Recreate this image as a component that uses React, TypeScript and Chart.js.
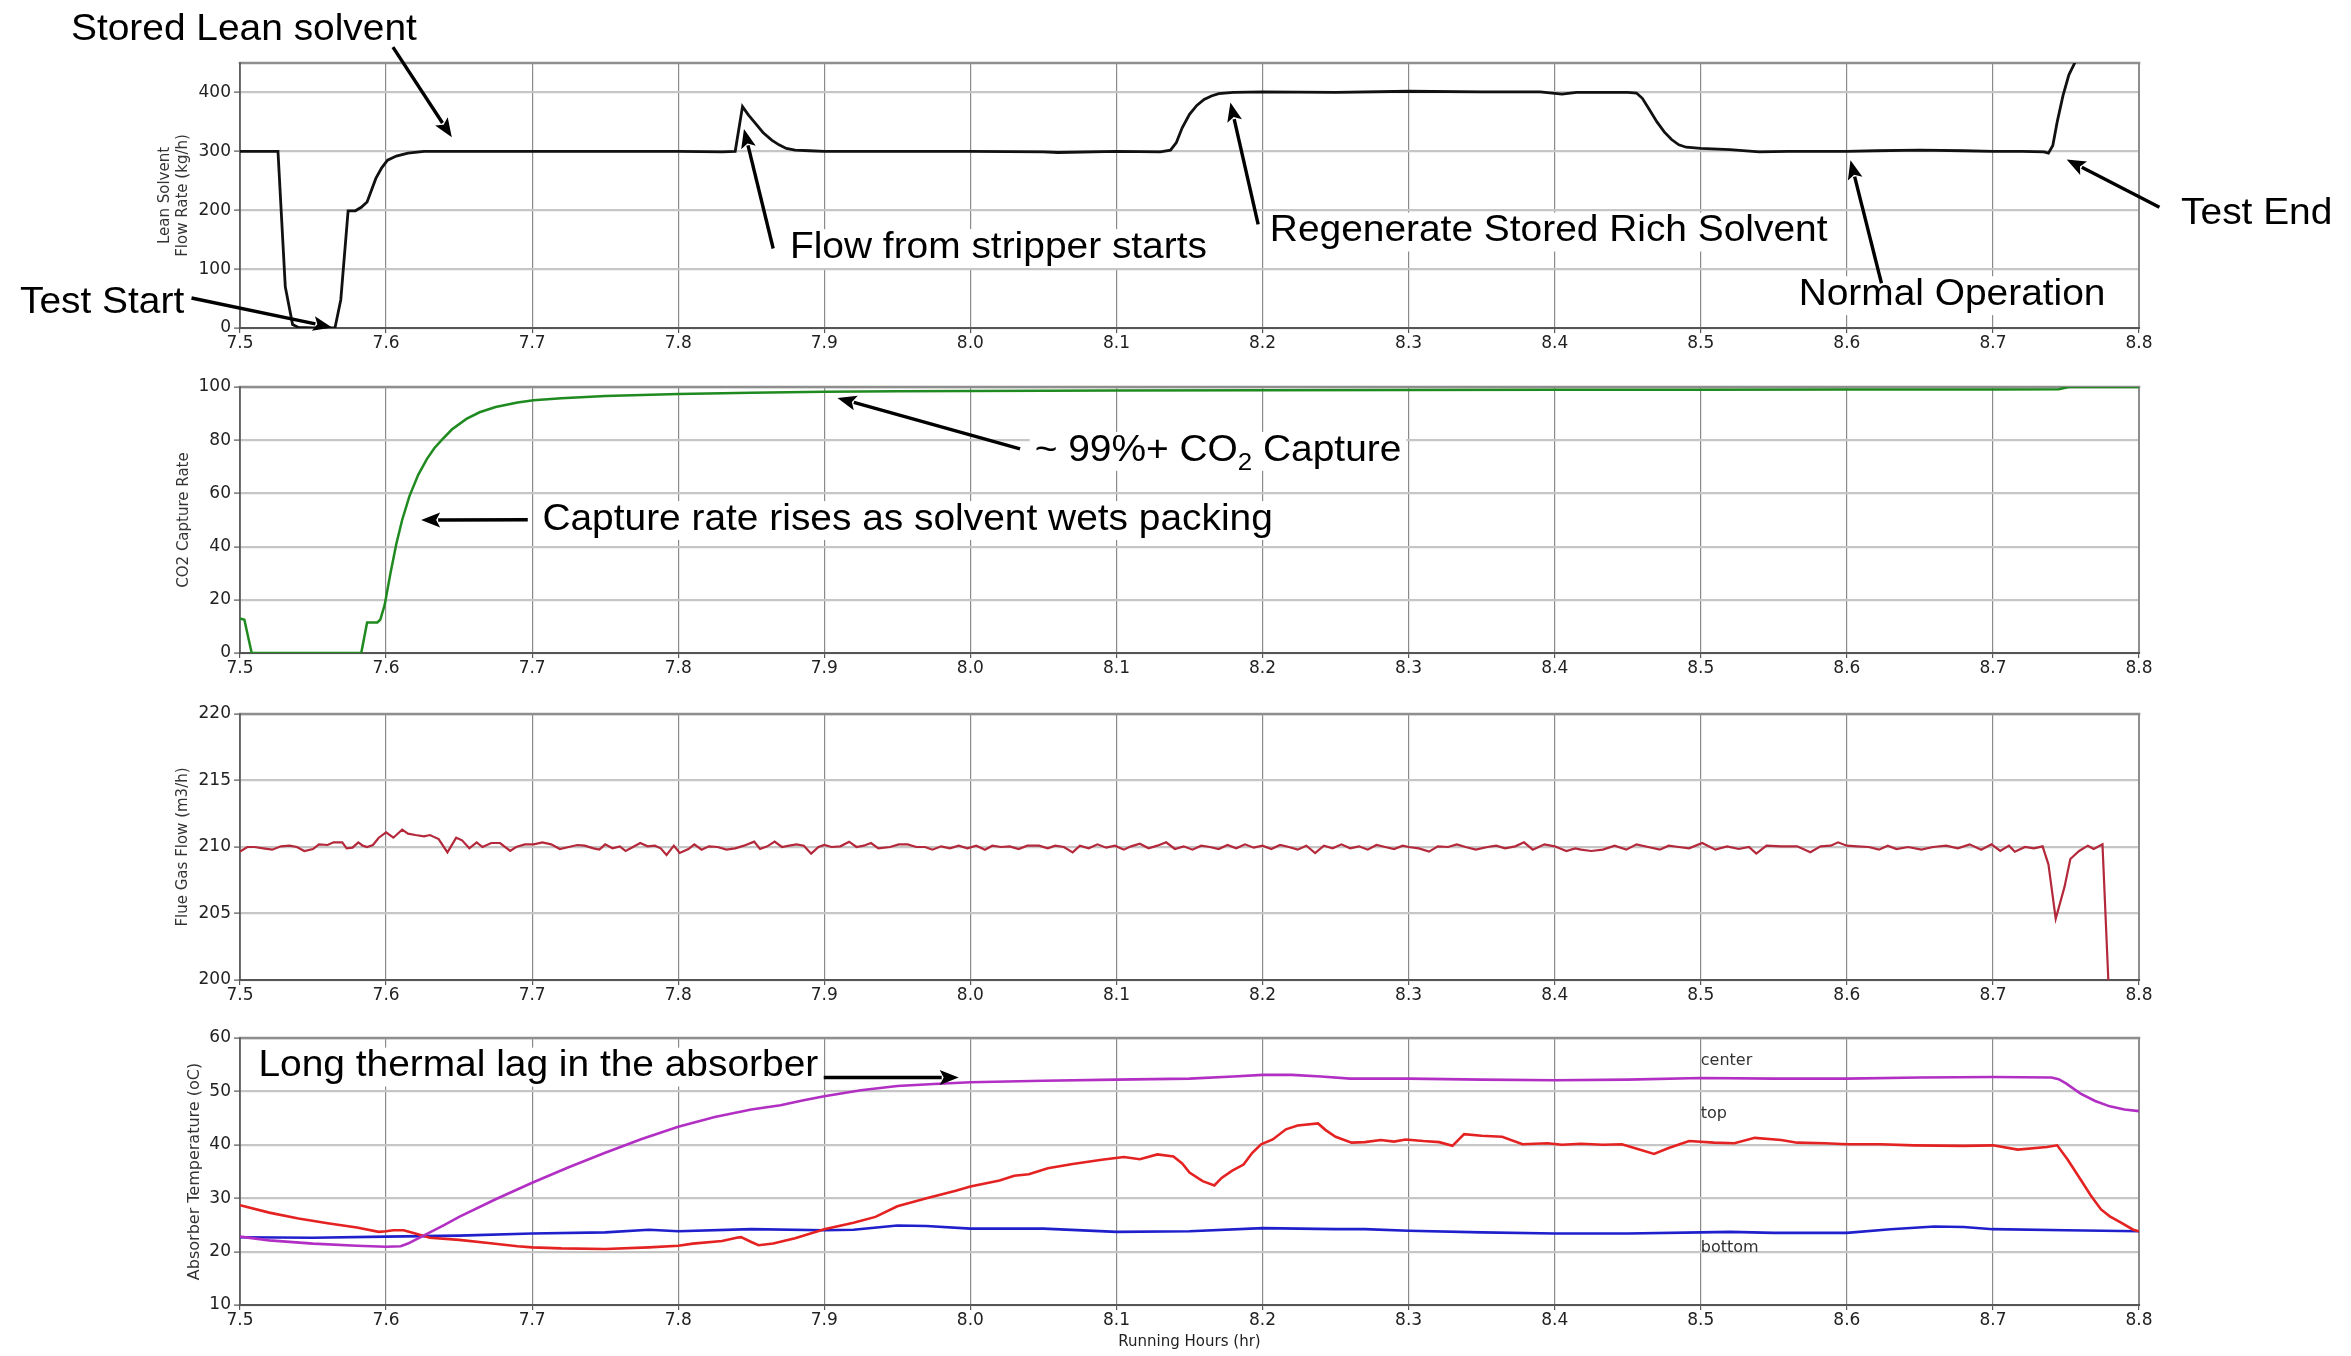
import React, { useEffect, useRef } from "react";
import { Chart, registerables } from "chart.js";
Chart.register(...registerables);

// ---------- axes ----------
const xTicks = [7.5, 7.6, 7.7, 7.8, 7.9, 8.0, 8.1, 8.2, 8.3, 8.4, 8.5, 8.6, 8.7, 8.8];
const leanTicks = [0, 100, 200, 300, 400];
const co2Ticks = [0, 20, 40, 60, 80, 100];
const flueTicks = [200, 205, 210, 215, 220];
const tempTicks = [10, 20, 30, 40, 50, 60];

// ---------- lean solvent flow (kg/h) ----------
const leanHours = [
  7.5, 7.51, 7.52, 7.526, 7.531, 7.536, 7.54, 7.55, 7.56, 7.565,
  7.569, 7.574, 7.579, 7.583, 7.587, 7.593, 7.597, 7.601, 7.607, 7.615,
  7.626, 7.65, 7.7, 7.75, 7.8, 7.83, 7.839, 7.844, 7.848, 7.853,
  7.858, 7.864, 7.869, 7.874, 7.88, 7.89, 7.9, 7.95, 8.0, 8.05,
  8.06, 8.1, 8.13, 8.137, 8.141, 8.145, 8.15, 8.155, 8.16, 8.165,
  8.17, 8.18, 8.2, 8.25, 8.3, 8.35, 8.39, 8.405, 8.415, 8.45,
  8.456, 8.46, 8.465, 8.47, 8.475, 8.48, 8.485, 8.49, 8.5, 8.52,
  8.54, 8.56, 8.6, 8.62, 8.65, 8.68, 8.7, 8.72, 8.735, 8.738,
  8.741, 8.744, 8.748, 8.752, 8.756, 8.76,
];
const leanFlow = [
  300, 300, 300, 300, 70, 6, 1, 0, 0, 0,
  48, 199, 199, 205, 214, 254, 272, 285, 292, 297,
  300, 300, 300, 300, 300, 299, 300, 376, 362, 347,
  332, 319, 311, 305, 302, 301, 300, 300, 300, 299,
  298, 300, 299, 302, 315, 340, 363, 378, 388, 394,
  398, 400, 401, 400, 402, 401, 401, 397, 400, 400,
  399, 390, 370, 350, 333, 320, 311, 307, 305, 303,
  299, 300, 300, 301, 302, 301, 300, 300, 299, 297,
  310, 350, 395, 430, 450, 470,
];

// ---------- CO2 capture rate ----------
const co2Hours = [
  7.5, 7.503, 7.506, 7.508, 7.55, 7.583, 7.587, 7.594, 7.596, 7.599,
  7.603, 7.607, 7.611, 7.616, 7.622, 7.628, 7.633, 7.638, 7.645, 7.655,
  7.664, 7.675, 7.69, 7.701, 7.72, 7.75, 7.8, 7.85, 7.9, 7.95,
  8.0, 8.1, 8.2, 8.3, 8.4, 8.5, 8.6, 8.7, 8.745, 8.752, 8.8,
];
const co2Rate = [
  13, 12.5, 5, 0, 0, 0, 11.5, 11.5, 12.5, 18,
  30, 41, 50, 59, 67, 73, 77, 80, 84, 88,
  90.5, 92.5, 94.2, 95, 95.8, 96.6, 97.4, 97.8, 98.2, 98.4,
  98.5, 98.7, 98.8, 98.9, 99.0, 99.0, 99.1, 99.1, 99.2, 100, 100,
];

// ---------- flue gas flow (m3/h) ----------
const flueHours = [
  7.5, 7.505, 7.51, 7.516, 7.522, 7.528, 7.534, 7.539, 7.544, 7.55,
  7.554, 7.56, 7.564, 7.57, 7.573, 7.577, 7.581, 7.584, 7.587, 7.591,
  7.595, 7.6, 7.605, 7.611, 7.615, 7.62, 7.626, 7.63, 7.636, 7.642,
  7.648, 7.652, 7.657, 7.662, 7.666, 7.672, 7.678, 7.685, 7.689, 7.695,
  7.701, 7.707, 7.713, 7.719, 7.725, 7.731, 7.736, 7.742, 7.746, 7.75,
  7.755, 7.76, 7.764, 7.769, 7.774, 7.779, 7.784, 7.788, 7.792, 7.797,
  7.801, 7.807, 7.811, 7.816, 7.821, 7.827, 7.833, 7.839, 7.845, 7.852,
  7.856, 7.861, 7.866, 7.871, 7.876, 7.881, 7.886, 7.891, 7.896, 7.9,
  7.905, 7.911, 7.917, 7.922, 7.927, 7.932, 7.937, 7.945, 7.951, 7.957,
  7.963, 7.969, 7.974, 7.98, 7.986, 7.992, 7.998, 8.004, 8.01, 8.015,
  8.021, 8.027, 8.033, 8.039, 8.047, 8.053, 8.058, 8.064, 8.07, 8.075,
  8.081, 8.087, 8.093, 8.099, 8.105, 8.11, 8.116, 8.122, 8.128, 8.134,
  8.14, 8.146, 8.152, 8.158, 8.164, 8.17, 8.176, 8.182, 8.188, 8.194,
  8.2, 8.206, 8.212, 8.218, 8.224, 8.23, 8.236, 8.242, 8.248, 8.254,
  8.26, 8.266, 8.272, 8.278, 8.284, 8.29, 8.296, 8.3, 8.307, 8.314,
  8.32, 8.327, 8.333, 8.339, 8.346, 8.354, 8.36, 8.366, 8.373, 8.379,
  8.385, 8.393, 8.4, 8.408, 8.414, 8.418, 8.425, 8.433, 8.441, 8.449,
  8.456, 8.464, 8.472, 8.478, 8.485, 8.492, 8.501, 8.51, 8.518, 8.526,
  8.533, 8.538, 8.545, 8.555, 8.566, 8.575, 8.582, 8.589, 8.594, 8.6,
  8.607, 8.615, 8.622, 8.628, 8.634, 8.642, 8.651, 8.659, 8.668, 8.676,
  8.684, 8.692, 8.699, 8.705, 8.711, 8.715, 8.722, 8.728, 8.734, 8.738,
  8.743, 8.749, 8.753, 8.759, 8.765, 8.769, 8.775, 8.779, 8.781,
];
const flueFlow = [
  209.65, 210.0, 210.0, 209.9, 209.8, 210.05, 210.1, 210.0, 209.7, 209.85,
  210.2, 210.15, 210.35, 210.35, 209.9, 209.95, 210.35, 210.1, 210.0, 210.15,
  210.7, 211.1, 210.7, 211.3, 211.0, 210.9, 210.8, 210.9, 210.6, 209.6,
  210.7, 210.5, 209.9, 210.35, 210.0, 210.3, 210.3, 209.7, 210.0, 210.2,
  210.2, 210.35, 210.2, 209.85, 210.0, 210.15, 210.1, 209.9, 209.8, 210.2,
  209.9, 210.05, 209.7, 210.0, 210.3, 210.05, 210.1, 209.9, 209.4, 210.1,
  209.55, 209.85, 210.2, 209.8, 210.05, 210.0, 209.8, 209.9, 210.1, 210.4,
  209.85, 210.05, 210.4, 210.0, 210.1, 210.2, 210.1, 209.5, 210.0, 210.15,
  210.0, 210.05, 210.4, 210.0, 210.1, 210.3, 209.9, 210.0, 210.2, 210.2,
  210.0, 210.0, 209.8, 210.05, 209.9, 210.1, 209.9, 210.1, 209.8, 210.1,
  210.0, 210.05, 209.85, 210.1, 210.1, 209.9, 210.1, 210.0, 209.6, 210.1,
  209.9, 210.2, 209.95, 210.1, 209.8, 210.05, 210.25, 209.9, 210.1, 210.35,
  209.85, 210.05, 209.8, 210.1, 210.0, 209.85, 210.15, 209.9, 210.2, 209.95,
  210.1, 209.85, 210.15, 210.0, 209.8, 210.1, 209.55, 210.1, 209.9, 210.2,
  209.9, 210.05, 209.8, 210.15, 210.0, 209.85, 210.1, 210.0, 209.9, 209.65,
  210.05, 210.0, 210.2, 210.0, 209.8, 210.0, 210.1, 209.9, 210.05, 210.35,
  209.8, 210.2, 210.05, 209.7, 209.9, 209.8, 209.7, 209.8, 210.1, 209.8,
  210.2, 210.0, 209.8, 210.1, 210.0, 209.9, 210.3, 209.8, 210.05, 209.85,
  210.0, 209.5, 210.1, 210.05, 210.05, 209.6, 210.05, 210.1, 210.35, 210.1,
  210.05, 210.0, 209.8, 210.1, 209.85, 210.0, 209.8, 210.0, 210.1, 209.9,
  210.2, 209.8, 210.2, 209.7, 210.1, 209.65, 210.0, 209.9, 210.05, 208.7,
  204.6, 207.0, 209.1, 209.7, 210.1, 209.85, 210.2, 200.0, 195.0,
];

// ---------- absorber temperatures (oC) ----------
const centerHours = [
  7.5, 7.52, 7.55, 7.58, 7.6, 7.61, 7.615, 7.62, 7.63, 7.64,
  7.65, 7.675, 7.7, 7.725, 7.75, 7.775, 7.8, 7.825, 7.85, 7.87,
  7.885, 7.9, 7.925, 7.95, 7.975, 8.0, 8.05, 8.1, 8.15, 8.18,
  8.2, 8.22, 8.24, 8.26, 8.3, 8.35, 8.4, 8.45, 8.5, 8.55,
  8.6, 8.65, 8.7, 8.74, 8.745, 8.75, 8.76, 8.77, 8.78, 8.79, 8.8,
];
const centerTemp = [
  22.8, 22.1, 21.5, 21.1, 20.9, 21.0, 21.5, 22.2, 23.6, 25.0,
  26.5, 29.8, 32.9, 35.8, 38.5, 41.1, 43.4, 45.2, 46.6, 47.4,
  48.3, 49.1, 50.2, 51.0, 51.4, 51.7, 52.0, 52.2, 52.4, 52.8,
  53.1, 53.1, 52.8, 52.4, 52.4, 52.2, 52.1, 52.2, 52.5, 52.4,
  52.4, 52.6, 52.7, 52.6, 52.3, 51.5, 49.6, 48.2, 47.2, 46.6, 46.3,
];
const topHours = [
  7.5, 7.52, 7.54, 7.56, 7.58, 7.595, 7.6, 7.605, 7.612, 7.62,
  7.63, 7.65, 7.67, 7.69, 7.7, 7.72, 7.75, 7.78, 7.8, 7.81,
  7.83, 7.84, 7.843, 7.85, 7.855, 7.865, 7.88, 7.9, 7.92, 7.935,
  7.95, 7.97, 7.99, 8.0, 8.02, 8.03, 8.04, 8.053, 8.07, 8.09,
  8.105, 8.116, 8.128, 8.139, 8.145, 8.15, 8.159, 8.167, 8.172, 8.179,
  8.187, 8.193, 8.199, 8.207, 8.216, 8.224, 8.238, 8.243, 8.25, 8.261,
  8.27, 8.281, 8.29, 8.298, 8.31, 8.321, 8.33, 8.338, 8.35, 8.364,
  8.378, 8.395, 8.405, 8.418, 8.433, 8.446, 8.458, 8.468, 8.478, 8.492,
  8.509, 8.523, 8.537, 8.555, 8.566, 8.585, 8.6, 8.623, 8.646, 8.68,
  8.7, 8.717, 8.737, 8.744, 8.751, 8.76, 8.767, 8.774, 8.78, 8.788,
  8.796, 8.8,
];
const topTemp = [
  28.7, 27.3, 26.2, 25.3, 24.5, 23.7, 23.8, 24.0, 24.0, 23.4,
  22.6, 22.2, 21.6, 21.0, 20.8, 20.6, 20.5, 20.8, 21.1, 21.5,
  22.0, 22.6, 22.7, 21.8, 21.2, 21.5, 22.5, 24.2, 25.4, 26.5,
  28.5, 30.0, 31.4, 32.2, 33.3, 34.2, 34.5, 35.6, 36.4, 37.2,
  37.7, 37.3, 38.2, 37.8, 36.5, 34.8, 33.2, 32.4, 33.8, 35.1,
  36.3, 38.5, 40.1, 41.0, 42.9, 43.6, 44.0, 42.8, 41.5, 40.4,
  40.5, 40.9, 40.6, 41.0, 40.7, 40.5, 39.8, 42.0, 41.7, 41.5,
  40.1, 40.3, 40.0, 40.2, 40.0, 40.1, 39.1, 38.3, 39.4, 40.7,
  40.4, 40.3, 41.3, 40.9, 40.4, 40.3, 40.1, 40.1, 39.9, 39.8,
  39.9, 39.1, 39.6, 39.9, 37.3, 33.5, 30.5, 27.9, 26.6, 25.4,
  24.1, 23.8,
];
const bottomHours = [
  7.5, 7.55, 7.6, 7.65, 7.7, 7.75, 7.78, 7.8, 7.85, 7.9,
  7.92, 7.95, 7.97, 8.0, 8.05, 8.1, 8.15, 8.2, 8.25, 8.27,
  8.3, 8.35, 8.4, 8.45, 8.5, 8.52, 8.55, 8.6, 8.63, 8.66,
  8.68, 8.7, 8.75, 8.8,
];
const bottomTemp = [
  22.7, 22.6, 22.8, 23.0, 23.4, 23.6, 24.1, 23.8, 24.2, 24.0,
  24.1, 24.9, 24.8, 24.3, 24.3, 23.7, 23.8, 24.4, 24.2, 24.2,
  23.9, 23.6, 23.4, 23.4, 23.6, 23.7, 23.5, 23.5, 24.2, 24.7,
  24.6, 24.2, 24.0, 23.8,
];

// ---------- layout / types ----------
type Part = { t: string; sub?: boolean };
type Note = { parts: Part[]; at: [number, number]; from?: [number, number]; to?: [number, number] };
type Tag = { text: string; at: [number, number] };
type Series = { hours: number[]; vals: number[]; color: string; width: number };
interface Panel {
  top: number; height: number; padTop: number; padBottom: number; padLeft: number; xAxisH: number;
  yMin: number; yMax: number; yTicks: number[]; yTitle: string | string[]; yTitleSize: number;
  xTitle?: string; series: Series[]; notes: Note[]; tags: Tag[];
}

const PLOT_LEFT = 240;
const PAD_RIGHT = 212;
const NOTE_FONT = 36;
const NOTE_SX = 1.08;
const NOTE_FAMILY = '"Liberation Sans", Arial, sans-serif';
const TICK_FONT = { family: "DejaVu Sans", size: 17 };

const panels: Panel[] = [
  {
    top: 0, height: 360, padTop: 63, padBottom: 2, padLeft: 156, xAxisH: 30,
    yMin: 0, yMax: 450, yTicks: leanTicks, yTitle: ["Lean Solvent", "Flow Rate (kg/h)"], yTitleSize: 15,
    series: [{ hours: leanHours, vals: leanFlow, color: "#111111", width: 2.8 }],
    notes: [
      { parts: [{ t: "Stored Lean solvent" }], at: [7.3843, 489], from: [7.6047, 477], to: [7.645, 324] },
      { parts: [{ t: "Test Start" }], at: [7.3494, 25.5], from: [7.4668, 51], to: [7.563, 1] },
      { parts: [{ t: "Flow from stripper starts" }], at: [7.8765, 119], from: [7.865, 135], to: [7.845, 338] },
      { parts: [{ t: "Regenerate Stored Rich Solvent" }], at: [8.205, 147], from: [8.197, 176], to: [8.178, 383] },
      { parts: [{ t: "Normal Operation" }], at: [8.567, 39], from: [8.6237, 76], to: [8.6025, 285] },
      { parts: [{ t: "Test End" }], at: [8.8288, 176.6], from: [8.814, 205], to: [8.7505, 286] },
    ],
    tags: [],
  },
  {
    top: 360, height: 330, padTop: 27, padBottom: 7, padLeft: 175, xAxisH: 30,
    yMin: 0, yMax: 100, yTicks: co2Ticks, yTitle: "CO2 Capture Rate", yTitleSize: 15,
    series: [{ hours: co2Hours, vals: co2Rate, color: "#1f8a1f", width: 2.5 }],
    notes: [
      { parts: [{ t: "Capture rate rises as solvent wets packing" }], at: [7.707, 46.3], from: [7.697, 50.1], to: [7.624, 50] },
      { parts: [{ t: "~ 99%+ CO" }, { t: "2", sub: true }, { t: " Capture" }], at: [8.044, 72.3], from: [8.034, 76.7], to: [7.909, 95.9] },
    ],
    tags: [],
  },
  {
    top: 690, height: 330, padTop: 24, padBottom: 10, padLeft: 174, xAxisH: 30,
    yMin: 200, yMax: 220, yTicks: flueTicks, yTitle: "Flue Gas Flow (m3/h)", yTitleSize: 15,
    series: [{ hours: flueHours, vals: flueFlow, color: "#b3283a", width: 2.2 }],
    notes: [],
    tags: [],
  },
  {
    top: 1020, height: 336, padTop: 18, padBottom: 0, padLeft: 185, xAxisH: 51,
    yMin: 10, yMax: 60, yTicks: tempTicks, yTitle: "Absorber Temperature (oC)", yTitleSize: 16,
    xTitle: "Running Hours (hr)",
    series: [
      { hours: centerHours, vals: centerTemp, color: "#b22fc4", width: 2.6 },
      { hours: topHours, vals: topTemp, color: "#e42222", width: 2.6 },
      { hours: bottomHours, vals: bottomTemp, color: "#1f1fcc", width: 2.6 },
    ],
    notes: [
      { parts: [{ t: "Long thermal lag in the absorber" }], at: [7.5126, 52.8], from: [7.8996, 52.6], to: [7.992, 52.6] },
    ],
    tags: [
      { text: "center", at: [8.5, 55] },
      { text: "top", at: [8.5, 45] },
      { text: "bottom", at: [8.5, 20] },
    ],
  },
];

// ---------- drawing helpers ----------
function partFont(p: Part) {
  return `${p.sub ? Math.round(NOTE_FONT * 0.66) : NOTE_FONT}px ${NOTE_FAMILY}`;
}
function noteWidth(ctx: CanvasRenderingContext2D, n: Note) {
  let w = 0;
  for (const p of n.parts) {
    ctx.font = partFont(p);
    w += ctx.measureText(p.t).width;
  }
  return w * NOTE_SX;
}
function drawArrow(ctx: CanvasRenderingContext2D, x1: number, y1: number, x2: number, y2: number) {
  const ang = Math.atan2(y2 - y1, x2 - x1);
  const hl = 19, hw = 7.5;
  const c = Math.cos(ang), s = Math.sin(ang);
  const bx = x2 - hl * c, by = y2 - hl * s;
  ctx.save();
  ctx.strokeStyle = "#000";
  ctx.fillStyle = "#000";
  ctx.lineWidth = 3.4;
  ctx.lineCap = "butt";
  ctx.beginPath();
  ctx.moveTo(x1, y1);
  ctx.lineTo(bx + 2 * c, by + 2 * s);
  ctx.stroke();
  ctx.beginPath();
  ctx.moveTo(x2, y2);
  ctx.lineTo(bx + hw * s, by - hw * c);
  ctx.lineTo(bx + 4 * c, by + 4 * s);
  ctx.lineTo(bx - hw * s, by + hw * c);
  ctx.closePath();
  ctx.fill();
  ctx.restore();
}

function makePlugin(p: Panel) {
  return {
    id: "notes",
    beforeDatasetsDraw(chart: any) {
      const { ctx, chartArea: a, scales } = chart;
      ctx.save();
      // frame (spines)
      ctx.lineCap = "square";
      ctx.strokeStyle = "#8e8e8e";
      ctx.lineWidth = 2.6;
      ctx.beginPath(); ctx.moveTo(a.left, a.top); ctx.lineTo(a.right, a.top); ctx.stroke();
      ctx.lineWidth = 2;
      ctx.beginPath(); ctx.moveTo(a.right, a.top); ctx.lineTo(a.right, a.bottom); ctx.stroke();
      ctx.strokeStyle = "#555";
      ctx.lineWidth = 2.2;
      ctx.beginPath(); ctx.moveTo(a.left, a.bottom); ctx.lineTo(a.right, a.bottom); ctx.stroke();
      ctx.lineWidth = 1.6;
      ctx.beginPath(); ctx.moveTo(a.left, a.top); ctx.lineTo(a.left, a.bottom); ctx.stroke();
      // white boxes behind notes
      ctx.fillStyle = "#ffffff";
      for (const n of p.notes) {
        const x = scales.x.getPixelForValue(n.at[0]);
        const y = scales.y.getPixelForValue(n.at[1]);
        const w = noteWidth(ctx, n);
        ctx.fillRect(x - 5, y - NOTE_FONT * 0.8, w + 10, NOTE_FONT * 1.08);
      }
      ctx.restore();
    },
    afterDraw(chart: any) {
      const { ctx, scales } = chart;
      const px = (v: number) => scales.x.getPixelForValue(v);
      const py = (v: number) => scales.y.getPixelForValue(v);
      ctx.save();
      ctx.textBaseline = "alphabetic";
      ctx.textAlign = "left";
      for (const n of p.notes) {
        let x = px(n.at[0]);
        const y = py(n.at[1]);
        ctx.fillStyle = "#000";
        for (const part of n.parts) {
          ctx.font = partFont(part);
          const w = ctx.measureText(part.t).width;
          ctx.save();
          ctx.translate(x, y + (part.sub ? NOTE_FONT * 0.26 : 0));
          ctx.scale(NOTE_SX, 1);
          ctx.fillText(part.t, 0, 0);
          ctx.restore();
          x += w * NOTE_SX;
        }
        if (n.from && n.to) drawArrow(ctx, px(n.from[0]), py(n.from[1]), px(n.to[0]), py(n.to[1]));
      }
      ctx.font = '16px "DejaVu Sans"';
      ctx.fillStyle = "#333";
      for (const t of p.tags) ctx.fillText(t.text, px(t.at[0]), py(t.at[1]));
      ctx.restore();
    },
  };
}

function PanelChart({ p }: { p: Panel }) {
  const ref = useRef<HTMLCanvasElement>(null);
  useEffect(() => {
    const canvas = ref.current;
    if (!canvas) return;
    const chart = new Chart(canvas, {
      type: "line",
      data: {
        datasets: p.series.map((s) => ({
          data: s.hours.map((h, i) => ({ x: h, y: s.vals[i] })),
          borderColor: s.color,
          borderWidth: s.width,
          pointRadius: 0,
          tension: 0,
          fill: false,
        })),
      },
      options: {
        responsive: false,
        animation: false,
        devicePixelRatio: 1,
        events: [],
        layout: { padding: { left: p.padLeft, right: PAD_RIGHT, top: p.padTop, bottom: p.padBottom } },
        plugins: { legend: { display: false }, tooltip: { enabled: false } },
        scales: {
          x: {
            type: "linear",
            min: 7.5,
            max: 8.8,
            afterBuildTicks: (axis: any) => { axis.ticks = xTicks.map((v) => ({ value: v })); },
            afterFit: (s: any) => { s.height = p.xAxisH; },
            ticks: {
              callback: (v: any) => Number(v).toFixed(1),
              font: TICK_FONT,
              color: "#222",
              padding: 0,
              maxRotation: 0,
              autoSkip: false,
            },
            grid: { color: "#8a8a8a", lineWidth: 1.2, tickLength: 5, tickColor: "#555", tickWidth: 1.2 },
            border: { display: false },
            title: p.xTitle
              ? { display: true, text: p.xTitle, font: { family: "DejaVu Sans", size: 15 }, color: "#222", padding: { top: 0, bottom: 5 } }
              : { display: false },
          },
          y: {
            type: "linear",
            min: p.yMin,
            max: p.yMax,
            afterBuildTicks: (axis: any) => { axis.ticks = p.yTicks.map((v) => ({ value: v })); },
            afterFit: (s: any) => { s.width = PLOT_LEFT - p.padLeft; },
            ticks: { font: TICK_FONT, color: "#222", padding: 3 },
            grid: { color: "#c6c6c6", lineWidth: 2.2, tickLength: 6, tickColor: "#555", tickWidth: 1.2 },
            border: { display: false },
            title: {
              display: true,
              text: p.yTitle,
              font: { family: "DejaVu Sans", size: p.yTitleSize, lineHeight: 1.2 },
              color: "#333",
              padding: { top: 0, bottom: 0 },
            },
          },
        },
      },
      plugins: [makePlugin(p)],
    } as any);
    return () => chart.destroy();
  }, [p]);
  return (
    <canvas
      ref={ref}
      width={2351}
      height={p.height}
      style={{ position: "absolute", left: 0, top: p.top, width: 2351, height: p.height, display: "block" }}
    />
  );
}

export default function App() {
  return (
    <div style={{ position: "absolute", left: 0, top: 0, width: 2351, height: 1356, background: "#fff", overflow: "hidden" }}>
      {panels.map((p, i) => (
        <PanelChart key={i} p={p} />
      ))}
    </div>
  );
}
